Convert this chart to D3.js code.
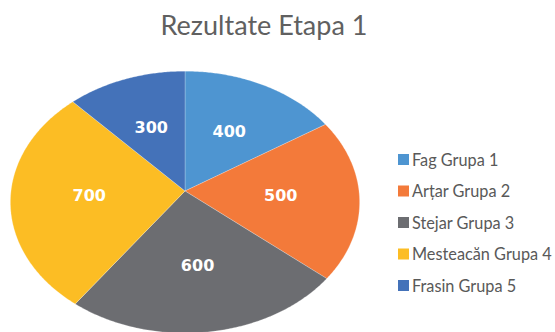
<!DOCTYPE html>
<html>
<head>
<meta charset="utf-8">
<script src="https://cdn.jsdelivr.net/npm/d3@7/dist/d3.min.js"></script>
<style>
  html, body { margin: 0; padding: 0; background: #ffffff; }
  svg { display: block; }
</style>
</head>
<body>
<svg id="chart" width="555" height="332"></svg>
<script>
// Data
const categories = ["Fag Grupa 1", "Arțar Grupa 2", "Stejar Grupa 3", "Mesteacăn Grupa 4", "Frasin Grupa 5"];
const values = [400, 500, 600, 700, 300];
const colors = ["#4E95D1", "#F37A3A", "#6C6D71", "#FCBD24", "#4472B9"];
const title = "Rezultate Etapa 1";

const svg = d3.select("#chart");

// Tilted pie: a disc seen from above with slight perspective
const cx = 185, cy = 191;
const A = 174;   // horizontal radius
const B = 130;   // vertical radius (before perspective)
const k = 0.085; // perspective strength (near side larger)

function project(phi, r) {
  const s = Math.sin(phi), c = Math.cos(phi);
  const d = 1 + k * r * c;
  return [cx + A * r * s / d, cy - B * r * c / d];
}

const pie = d3.pie().sort(null).value(d => d)(values);
const line = d3.line().curve(d3.curveLinear);

function slicePath(p) {
  const pts = [project(0, 0)];
  const n = Math.max(8, Math.ceil((p.endAngle - p.startAngle) / 0.01));
  for (let i = 0; i <= n; i++) {
    const a = p.startAngle + (p.endAngle - p.startAngle) * i / n;
    pts.push(project(a, 1));
  }
  return line(pts) + "Z";
}

const gPie = svg.append("g");
gPie.selectAll("path.slice")
  .data(pie)
  .join("path")
  .attr("class", "slice")
  .attr("d", slicePath)
  .attr("fill", (d, i) => colors[i])
  .attr("stroke", "#ffffff")
  .attr("stroke-width", 0.4)
  .attr("stroke-opacity", 0.6);

// Value labels
gPie.selectAll("text.val")
  .data(pie)
  .join("text")
  .attr("class", "val")
  .attr("x", d => project((d.startAngle + d.endAngle) / 2, 0.55)[0])
  .attr("y", d => project((d.startAngle + d.endAngle) / 2, 0.55)[1])
  .attr("dy", "0.36em")
  .attr("text-anchor", "middle")
  .attr("font-family", "'DejaVu Sans', sans-serif")
  .attr("font-weight", "bold")
  .attr("font-size", 16)
  .attr("fill", "#ffffff")
  .text(d => d.data);

// Title
svg.append("text")
  .attr("x", 264)
  .attr("y", 35)
  .attr("text-anchor", "middle")
  .attr("font-family", "Lato, sans-serif")
  .attr("font-size", 27)
  .attr("fill", "#606060")
  .text(title);

// Legend
const legendY = d3.scalePoint().domain(categories).range([160, 286]);
const legend = svg.append("g");
const items = legend.selectAll("g")
  .data(categories)
  .join("g")
  .attr("transform", d => `translate(398,${legendY(d)})`);
items.append("rect")
  .attr("x", 0).attr("y", -6)
  .attr("width", 11).attr("height", 11)
  .attr("fill", (d, i) => colors[i]);
items.append("text")
  .attr("x", 14)
  .attr("y", 0)
  .attr("dy", "0.35em")
  .attr("font-family", "Lato, sans-serif")
  .attr("font-size", 16.3)
  .attr("fill", "#595959")
  .text(d => d);
</script>
</body>
</html>
